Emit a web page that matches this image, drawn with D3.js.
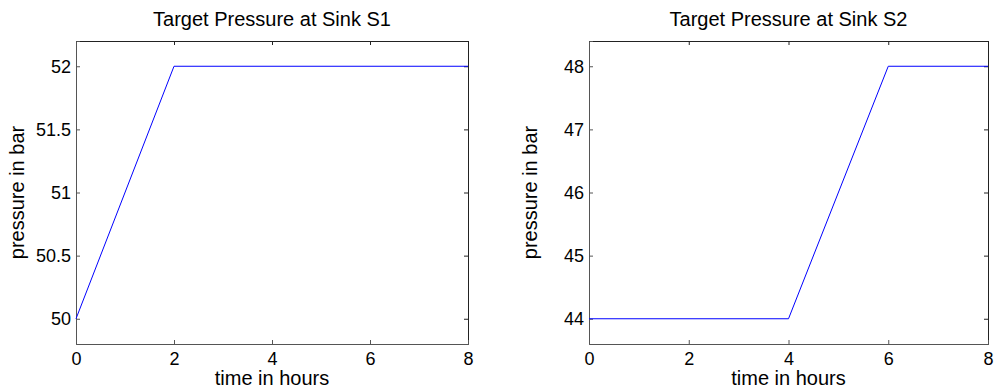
<!DOCTYPE html>
<html>
<head>
<meta charset="utf-8">
<script src="https://cdn.jsdelivr.net/npm/d3@7"></script>
<style>
  body { margin: 0; background: #fff; }
  svg text { font-family: "Liberation Sans", Arial, sans-serif; fill: #000; }
</style>
</head>
<body>
<div id="chart-area"><svg></svg></div>
<script>
const chartSize = { width: 994, height: 391 };

// data
const hours = [0, 2, 4, 6, 8];
const sink1Hours = [0, 2, 8];
const sink1Pressure = [50, 52, 52];
const sink2Hours = [0, 4, 6, 8];
const sink2Pressure = [44, 44, 48, 48];
const sink1Ticks = [50, 50.5, 51, 51.5, 52];
const sink2Ticks = [44, 45, 46, 47, 48];

const panels = [
  {
    title: "Target Pressure at Sink S1",
    xs: sink1Hours, ys: sink1Pressure, yTicks: sink1Ticks,
    yDomain: [49.8, 52.2],
    box: { left: 76, right: 468, top: 41, bottom: 344 }
  },
  {
    title: "Target Pressure at Sink S2",
    xs: sink2Hours, ys: sink2Pressure, yTicks: sink2Ticks,
    yDomain: [43.6, 48.4],
    box: { left: 589, right: 988, top: 41, bottom: 344 }
  }
];

const drawPanel = (svg, p) => {
  const b = p.box;
  const w = b.right - b.left;
  const h = b.bottom - b.top;
  const g = svg.append("g").attr("transform", `translate(${b.left},${b.top})`);

  const x = d3.scaleLinear().domain([0, 8]).range([0, w]);
  const y = d3.scaleLinear().domain(p.yDomain).range([h, 0]);

  // matlab style box: ticks pointing inwards on all four sides
  const tick = 4;
  g.append("g")
    .attr("class", "x-axis-top edge")
    .call(d3.axisTop(x).tickValues(hours).tickSize(-tick).tickFormat(""));
  g.append("g")
    .attr("class", "y-axis-right edge")
    .attr("transform", `translate(${w},0)`)
    .call(d3.axisRight(y).tickValues(p.yTicks).tickSize(-tick).tickFormat(""));
  g.append("g")
    .attr("class", "x-axis main")
    .attr("transform", `translate(0,${h})`)
    .call(d3.axisBottom(x).tickValues(hours).tickSize(-tick).tickPadding(8).tickFormat(d3.format("d")));
  g.append("g")
    .attr("class", "y-axis main")
    .call(d3.axisLeft(y).tickValues(p.yTicks).tickSize(-tick).tickPadding(5).tickFormat(d => d));

  g.selectAll(".edge .domain, .edge .tick line").attr("stroke", "#222");
  g.selectAll(".main .domain, .main .tick line").attr("stroke", "#555");
  g.selectAll(".tick text").style("font-size", "18px").attr("fill", "#000");

  const line = d3.line().x(d => x(d[0])).y(d => y(d[1]));
  g.append("path")
    .datum(p.xs.map((v, i) => [v, p.ys[i]]))
    .attr("fill", "none")
    .attr("stroke", "#0000ff")
    .attr("stroke-width", 1)
    .attr("d", line);

  g.append("text")
    .attr("x", w / 2)
    .attr("y", -15)
    .attr("text-anchor", "middle")
    .style("font-size", "20px")
    .text(p.title);

  g.append("text")
    .attr("x", w / 2)
    .attr("y", h + 41)
    .attr("text-anchor", "middle")
    .style("font-size", "20px")
    .text("time in hours");

  g.append("text")
    .attr("transform", "rotate(-90)")
    .attr("x", -h / 2)
    .attr("y", -52)
    .attr("text-anchor", "middle")
    .style("font-size", "20px")
    .text("pressure in bar");
};

const main = () => {
  const svg = d3.select("#chart-area svg")
    .attr("width", chartSize.width)
    .attr("height", chartSize.height);
  panels.forEach(p => drawPanel(svg, p));
};

window.onload = main;
</script>
</body>
</html>
